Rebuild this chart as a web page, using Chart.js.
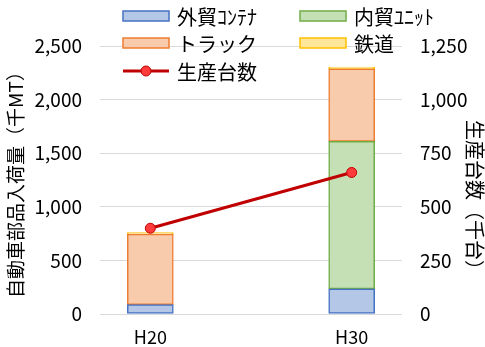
<!DOCTYPE html>
<html>
<head>
<meta charset="utf-8">
<script src="https://cdn.jsdelivr.net/npm/chart.js@4/dist/chart.umd.min.js"></script>
<style>
  html, body { margin: 0; padding: 0; background: #fff; }
  #wrap { width: 485px; height: 347px; }
</style>
</head>
<body>
<div id="wrap"><canvas id="c" width="485" height="347"></canvas></div>
<script>
// 年次区分
const categories = ['H20', 'H30'];

// 自動車部品入荷量（千MT）
const foreignContainer = [88, 235];
const domesticUnit = [0, 1375];
const truck = [657, 678];
const rail = [15, 15];

// 生産台数（千台）
const production = [400, 660];

// 軸目盛
const leftTicks = [0, 500, 1000, 1500, 2000, 2500];
const rightTicks = [0, 250, 500, 750, 1000, 1250];

const FONT = '"Noto Sans CJK JP", "Noto Sans", sans-serif';
Chart.defaults.font.family = FONT;
Chart.defaults.color = '#000';

const pts = arr => arr.map((v, i) => ({ x: i, y: v }));

function barSet(label, values, fill, border) {
  return {
    type: 'bar', label, data: pts(values), yAxisID: 'y', order: 1,
    backgroundColor: fill, borderColor: border, borderWidth: 1.5,
    borderSkipped: false, barThickness: 46
  };
}

// 凡例（2列配置）
const legendLayout = [
  { col: 0, row: 0 }, { col: 1, row: 0 },
  { col: 0, row: 1 }, { col: 1, row: 1 },
  { col: 0, row: 2 }
];
const legendPlugin = {
  id: 'gridLegend',
  afterDraw(chart) {
    const ctx = chart.ctx;
    const colX = [123, 300], rowY = [16, 43, 71];
    const boxW = 46, boxH = 10;
    ctx.save();
    ctx.font = '20px ' + FONT;
    ctx.textBaseline = 'middle';
    ctx.textAlign = 'left';
    chart.data.datasets.forEach((ds, i) => {
      const pos = legendLayout[i];
      const x = colX[pos.col], y = rowY[pos.row];
      if (ds.type === 'line') {
        ctx.strokeStyle = ds.borderColor;
        ctx.lineWidth = ds.borderWidth;
        ctx.beginPath(); ctx.moveTo(x, y); ctx.lineTo(x + boxW, y); ctx.stroke();
        ctx.beginPath(); ctx.arc(x + boxW / 2, y, ds.pointRadius, 0, Math.PI * 2);
        ctx.fillStyle = ds.pointBackgroundColor; ctx.fill();
        ctx.lineWidth = ds.pointBorderWidth; ctx.strokeStyle = ds.pointBorderColor; ctx.stroke();
      } else {
        ctx.fillStyle = ds.backgroundColor;
        ctx.fillRect(x, y - boxH / 2, boxW, boxH);
        ctx.strokeStyle = ds.borderColor;
        ctx.lineWidth = 1.5;
        ctx.strokeRect(x, y - boxH / 2, boxW, boxH);
      }
      ctx.fillStyle = '#000';
      ctx.fillText(ds.label, x + boxW + 8, y + 1);
    });
    ctx.restore();
  }
};

new Chart(document.getElementById('c'), {
  data: {
    datasets: [
      barSet('外貿ｺﾝﾃﾅ', foreignContainer, '#B4C7E7', '#4472C4'),
      barSet('内貿ﾕﾆｯﾄ', domesticUnit, '#C5E0B4', '#70AD47'),
      barSet('トラック', truck, '#F8CBAD', '#ED7D31'),
      barSet('鉄道', rail, '#FFE699', '#FFC000'),
      {
        type: 'line', label: '生産台数', data: pts(production), yAxisID: 'y1', order: 0,
        borderColor: '#C00000', borderWidth: 3,
        pointRadius: 5, pointBackgroundColor: '#FF3B3B',
        pointBorderColor: '#C00000', pointBorderWidth: 1
      }
    ]
  },
  options: {
    responsive: false,
    animation: false,
    layout: { padding: { top: 46, left: 0, right: 0, bottom: 0 } },
    plugins: { legend: { display: false }, tooltip: { enabled: false } },
    scales: {
      x: {
        type: 'linear', stacked: true, min: -0.25, max: 1.25, offset: false,
        grid: { display: false, drawTicks: false },
        border: { display: false },
        afterBuildTicks: s => { s.ticks = categories.map((c, i) => ({ value: i })); },
        afterFit: s => { s.height = 33; },
        ticks: {
          padding: 12, font: { size: 18 },
          callback: v => categories[v]
        }
      },
      y: {
        position: 'left', stacked: true, min: 0, max: 2500,
        grid: { color: '#D9D9D9', lineWidth: 1, drawTicks: false },
        border: { display: false },
        afterBuildTicks: s => { s.ticks = leftTicks.map(v => ({ value: v })); },
        afterFit: s => { s.width = 100; },
        ticks: { padding: 18, font: { size: 19 }, callback: v => v.toLocaleString('en-US') },
        title: {
          display: true, text: '自動車部品入荷量（千MT）',
          font: { size: 19 }, padding: { top: 4, bottom: 0 }
        }
      },
      y1: {
        position: 'right', min: 0, max: 1250,
        grid: { display: false, drawTicks: false },
        border: { display: false },
        afterBuildTicks: s => { s.ticks = rightTicks.map(v => ({ value: v })); },
        afterFit: s => { s.width = 83; },
        ticks: { padding: 18, font: { size: 19 }, callback: v => v.toLocaleString('en-US') },
        title: {
          display: true, text: '　　生産台数（千台）',
          font: { size: 20, lineHeight: 1 }, padding: { top: 0, bottom: 0 }
        }
      }
    }
  },
  plugins: [legendPlugin]
});
</script>
</body>
</html>
